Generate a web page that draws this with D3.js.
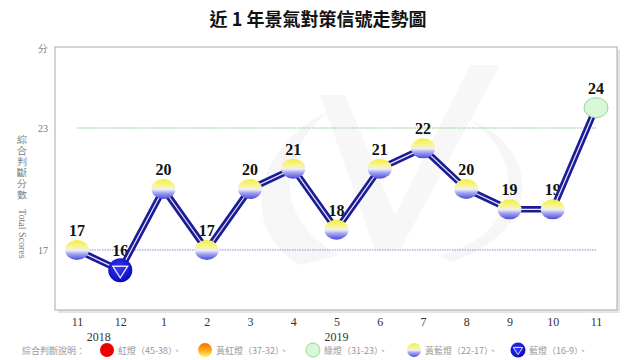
<!DOCTYPE html>
<html lang="zh-Hant">
<head>
<meta charset="UTF-8">
<title>近 1 年景氣對策信號走勢圖</title>
<script src="https://d3js.org/d3.v7.min.js"></script>
<style>
    body { margin: 0; padding: 0; background: #fff; }
    svg { display: block; }
    .title { font-family: "Noto Sans CJK TC", sans-serif; font-weight: bold; font-size: 18px; fill: #111; }
    .tick-label { font-family: "Liberation Serif", serif; font-size: 12px; fill: #333; }
    .year-label { font-family: "Liberation Serif", serif; font-size: 12px; fill: #333; }
    .y-label { font-family: "Liberation Serif", serif; font-size: 10px; fill: #777; }
    .value-label { font-family: "Liberation Serif", serif; font-weight: bold; font-size: 16px; fill: #111; }
    .legend-text { font-family: "Noto Sans CJK TC", serif; font-size: 9px; fill: #999; }
</style>
</head>
<body>
<svg width="640" height="360"></svg>
<script>
// données
const months = ["11", "12", "1", "2", "3", "4", "5", "6", "7", "8", "9", "10", "11"];
const scores = [17, 16, 20, 17, 20, 21, 18, 21, 22, 20, 19, 19, 24];
const years = [{ label: "2018", at: 0.5 }, { label: "2019", at: 6 }];
const refLines = [23, 17];
const yTicks = [23, 17];
const legendItems = [
    { name: "紅燈（45-38）", light: "red" },
    { name: "黃紅燈（37-32）", light: "yellowred" },
    { name: "綠燈（31-23）", light: "green" },
    { name: "黃藍燈（22-17）", light: "yellowblue" },
    { name: "藍燈（16-9）", light: "blue" }
];

const svg = d3.select("svg");
const box = { left: 55, top: 47, right: 617, bottom: 310 };

// couleur du signal selon le score
function lightOf(v) {
    if (v >= 38) return "red";
    if (v >= 32) return "yellowred";
    if (v >= 23) return "green";
    if (v >= 17) return "yellowblue";
    return "blue";
}

const x = d3.scalePoint().domain(d3.range(months.length)).range([77, 596]);
const y = d3.scaleLinear().domain([17, 23]).range([250, 128]);

// dégradés
const defs = svg.append("defs");
const gYB = defs.append("linearGradient").attr("id", "gYB").attr("x1", 0).attr("y1", 0).attr("x2", 0).attr("y2", 1);
[["0%", "#f4ee3c"], ["35%", "#f8f59a"], ["52%", "#eeeef8"], ["68%", "#a9a9f0"], ["100%", "#4a4ade"]]
    .forEach(s => gYB.append("stop").attr("offset", s[0]).attr("stop-color", s[1]));
const gYR = defs.append("linearGradient").attr("id", "gYR").attr("x1", 0).attr("y1", 0).attr("x2", 0).attr("y2", 1);
[["0%", "#ff6a00"], ["55%", "#ffb020"], ["100%", "#fff27a"]]
    .forEach(s => gYR.append("stop").attr("offset", s[0]).attr("stop-color", s[1]));
const gB = defs.append("radialGradient").attr("id", "gB").attr("cx", "45%").attr("cy", "40%").attr("r", "60%");
[["0%", "#3a3aff"], ["100%", "#0808b8"]]
    .forEach(s => gB.append("stop").attr("offset", s[0]).attr("stop-color", s[1]));

// titre
svg.append("text").attr("class", "title")
    .attr("x", 318).attr("y", 26).attr("text-anchor", "middle")
    .text("近 1 年景氣對策信號走勢圖");

// cadre avec ombre
svg.append("rect")
    .attr("x", box.left + 3).attr("y", box.top + 3)
    .attr("width", box.right - box.left).attr("height", box.bottom - box.top)
    .attr("fill", "#e4e4e4");
svg.append("rect")
    .attr("x", box.left).attr("y", box.top)
    .attr("width", box.right - box.left).attr("height", box.bottom - box.top)
    .attr("fill", "#fff").attr("stroke", "#b8b8b8").attr("stroke-width", 1.2);

// filigrane discret
const wm = svg.append("g").attr("opacity", 0.45);
wm.append("path")
    .attr("d", "M300,265 C240,230 250,150 330,110 C270,160 280,225 340,255 Z")
    .attr("fill", "#ececec");
wm.append("path")
    .attr("d", "M345,95 L395,215 L470,65 L500,65 L400,250 L375,250 L320,95 Z")
    .attr("fill", "#efefef");
wm.append("path")
    .attr("d", "M440,255 C520,235 530,160 470,120 C545,150 540,235 450,262 Z")
    .attr("fill", "#ececec");

// lignes de référence
svg.append("g").selectAll("line")
    .data(refLines)
    .join("line")
    .attr("x1", x(0)).attr("x2", x(months.length - 1))
    .attr("y1", d => y(d)).attr("y2", d => y(d))
    .attr("stroke", d => d === 23 ? "#8cc48c" : "#8c8ce0")
    .attr("stroke-width", 1.2)
    .attr("stroke-dasharray", "1.5,1");

// étiquettes de l'axe Y
svg.append("text").attr("class", "y-label").attr("x", 43).attr("y", 52).attr("text-anchor", "middle").text("分");
svg.append("g").selectAll("text")
    .data(yTicks)
    .join("text")
    .attr("class", "y-label")
    .attr("x", 43).attr("y", d => y(d) + 4)
    .attr("text-anchor", "middle")
    .text(d => d);

// titre vertical
const vt = svg.append("g");
"綜合判斷分數".split("").forEach((c, i) => {
    vt.append("text").attr("class", "y-label")
        .attr("x", 22).attr("y", 143 + i * 11)
        .attr("text-anchor", "middle")
        .text(c);
});
vt.append("text").attr("class", "y-label")
    .attr("transform", "translate(19,209) rotate(90)")
    .text("Total Scores");

// axe X
const xAxis = svg.append("g").attr("transform", `translate(0,${box.bottom})`)
    .call(d3.axisBottom(x).tickSize(0).tickPadding(7).tickFormat(i => months[i]));
xAxis.select(".domain").remove();
xAxis.selectAll("text").attr("class", "tick-label").attr("fill", null).attr("font-size", null).attr("font-family", null);

svg.append("g").selectAll("text")
    .data(years)
    .join("text")
    .attr("class", "year-label")
    .attr("x", d => x(Math.floor(d.at)) + (x(1) - x(0)) * (d.at % 1))
    .attr("y", 341)
    .attr("text-anchor", "middle")
    .text(d => d.label);

// valeurs
svg.append("g").selectAll("text")
    .data(scores)
    .join("text")
    .attr("class", "value-label")
    .attr("x", (d, i) => x(i))
    .attr("y", d => y(d) - 14)
    .attr("text-anchor", "middle")
    .text(d => d);

// la ligne
const line = d3.line().x((d, i) => x(i)).y(d => y(d));
svg.append("path").datum(scores)
    .attr("d", line).attr("fill", "none")
    .attr("stroke", "#1c1c94").attr("stroke-width", 6.5).attr("stroke-linejoin", "round");
svg.append("path").datum(scores)
    .attr("d", line).attr("fill", "none")
    .attr("stroke", "#e8e8ff").attr("stroke-width", 1.2).attr("stroke-linejoin", "round");

// dessin d'une lampe
function drawLight(g, kind, cx, cy, big) {
    const rx = big ? 12 : 7, ry = big ? 10 : 7;
    if (kind === "red") {
        g.append("ellipse").attr("cx", cx).attr("cy", cy).attr("rx", rx).attr("ry", ry).attr("fill", "#ee0000");
    } else if (kind === "yellowred") {
        g.append("ellipse").attr("cx", cx).attr("cy", cy).attr("rx", rx).attr("ry", ry).attr("fill", "url(#gYR)");
    } else if (kind === "green") {
        g.append("ellipse").attr("cx", cx).attr("cy", cy).attr("rx", rx).attr("ry", ry)
            .attr("fill", "#d8f6d8").attr("stroke", "#96d896").attr("stroke-width", 1);
    } else if (kind === "yellowblue") {
        g.append("ellipse").attr("cx", cx).attr("cy", cy).attr("rx", rx).attr("ry", ry).attr("fill", "url(#gYB)");
    } else {
        const r = big ? 12 : 7.5;
        g.append("circle").attr("cx", cx).attr("cy", cy).attr("r", r).attr("fill", "url(#gB)");
        const t = r * 0.62;
        g.append("path")
            .attr("d", `M${cx - t},${cy - t * 0.55} L${cx + t},${cy - t * 0.55} L${cx},${cy + t} Z`)
            .attr("fill", "none").attr("stroke", "#e0e0ff").attr("stroke-width", big ? 1.4 : 1);
    }
}

const markers = svg.append("g");
scores.forEach((d, i) => drawLight(markers, lightOf(d), x(i), y(d), true));

// légende
const legendX = [107, 205, 313, 414, 518];
const lg = svg.append("g");
lg.append("text").attr("class", "legend-text").attr("x", 22).attr("y", 354).text("綜合判斷說明：");
legendItems.forEach((it, i) => {
    drawLight(lg, it.light, legendX[i], 350, false);
    lg.append("text").attr("class", "legend-text")
        .attr("x", legendX[i] + 11).attr("y", 354)
        .text(it.name + "、");
});
</script>
</body>
</html>
